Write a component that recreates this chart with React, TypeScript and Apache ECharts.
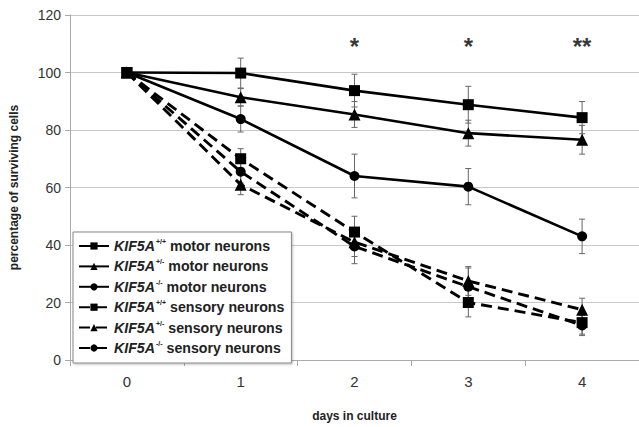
import React, { useEffect, useRef } from "react";
import * as echarts from "echarts";

const days = ["0", "1", "2", "3", "4"];
const seriesNames = [
  "motor_wt",
  "motor_het",
  "motor_ko",
  "sensory_wt",
  "sensory_het",
  "sensory_ko",
];
const genotypes = ["+/+", "+/-", "-/-", "+/+", "+/-", "-/-"];
const cellTypes = ["motor neurons", "motor neurons", "motor neurons", "sensory neurons", "sensory neurons", "sensory neurons"];
const symbols = ["rect", "triangle", "circle", "rect", "triangle", "circle"];
const dashed = [false, false, false, true, true, true];

const motorWT = [100, 99.8, 93.7, 88.8, 84.3];
const motorHet = [100, 91.4, 85.4, 78.9, 76.6];
const motorKO = [100, 83.8, 64, 60.3, 43];
const sensWT = [100, 70, 44.5, 20, 13];
const sensHet = [100, 61, 41, 27.5, 17.5];
const sensKO = [100, 65.5, 39.5, 25.5, 12];

const motorWTErr = [0, 5.2, 5.7, 6.4, 5.6];
const motorHetErr = [0, 3, 4.5, 4.5, 5];
const motorKOErr = [0, 4.5, 7.6, 6.3, 6];
const sensWTErr = [0, 3.5, 5.5, 5, 4];
const sensHetErr = [0, 3.5, 5, 5, 4];
const sensKOErr = [0, 4, 6, 6.5, 3.5];

const significance = ["", "", "*", "*", "**"];
const significanceLevel = 110.7;

const values = [motorWT, motorHet, motorKO, sensWT, sensHet, sensKO];
const errors = [motorWTErr, motorHetErr, motorKOErr, sensWTErr, sensHetErr, sensKOErr];

const FONT = "'Liberation Sans', Arial, sans-serif";

export default function App() {
  const ref = useRef<HTMLDivElement>(null);
  useEffect(() => {
    if (!ref.current) return;
    document.body.style.margin = "0";
    const chart = echarts.init(ref.current, null, { renderer: "svg" });

    const errData: number[][] = [];
    errors.forEach((errArr, s) => {
      errArr.forEach((e, i) => {
        if (e > 0) errData.push([i, values[s][i] - e, values[s][i] + e]);
      });
    });

    const lineSeries = values.map((vals, s) => ({
      name: seriesNames[s],
      type: "line",
      data: vals,
      symbol: symbols[s],
      symbolSize: symbols[s] === "triangle" ? 12 : symbols[s] === "circle" ? 10 : 11,
      showSymbol: true,
      z: 5,
      itemStyle: { color: "#000" },
      lineStyle: {
        color: "#000",
        width: dashed[s] ? 2.9 : 2.6,
        type: dashed[s] ? [11, 6] : "solid",
      },
    }));

    chart.setOption({
      animation: false,
      backgroundColor: "#fff",
      textStyle: { fontFamily: FONT },
      grid: { left: 68, right: -4, top: 15, bottom: 62 },
      xAxis: {
        type: "category",
        data: days,
        boundaryGap: true,
        name: "days in culture",
        nameLocation: "middle",
        nameGap: 50,
        nameTextStyle: { fontSize: 12, fontWeight: "bold", color: "#222", fontFamily: FONT },
        axisLine: { lineStyle: { color: "#aaa", width: 1 } },
        axisTick: { show: true, length: 6, lineStyle: { color: "#aaa" } },
        axisLabel: { fontSize: 15, color: "#333", margin: 14, fontFamily: FONT },
      },
      yAxis: {
        type: "value",
        min: 0,
        max: 120,
        interval: 20,
        name: "percentage of surviving cells",
        nameLocation: "middle",
        nameGap: 50,
        nameTextStyle: { fontSize: 12, fontWeight: "bold", color: "#222", fontFamily: FONT },
        axisLine: { show: true, lineStyle: { color: "#aaa", width: 1 } },
        axisTick: { show: true, length: 5, lineStyle: { color: "#aaa" } },
        axisLabel: { fontSize: 14, color: "#333", margin: 9, fontFamily: FONT },
        splitLine: { lineStyle: { color: "#c8c8c8", width: 1 } },
      },
      legend: {
        data: seriesNames,
        orient: "vertical",
        left: 73,
        top: 232,
        itemWidth: 30,
        itemHeight: 9,
        itemGap: 4.4,
        padding: [6, 7, 7, 5],
        backgroundColor: "#fff",
        borderColor: "#888",
        borderWidth: 1,
        shadowColor: "rgba(0,0,0,0.25)",
        shadowBlur: 2,
        shadowOffsetX: 1,
        shadowOffsetY: 1,
        formatter: (name: string) => {
          const idx = seriesNames.indexOf(name);
          return `{i|KIF5A}{s|${genotypes[idx]}}{n| ${cellTypes[idx]}}`;
        },
        textStyle: {
          color: "#222",
          fontFamily: FONT,
          lineHeight: 16,
          rich: {
            i: { fontStyle: "italic", fontWeight: "bold", fontSize: 14.2, lineHeight: 16, color: "#222", fontFamily: FONT },
            s: { fontSize: 7, fontWeight: "bold", color: "#222", verticalAlign: "top", lineHeight: 16, padding: [0, 0, 0, 1], fontFamily: FONT },
            n: { fontSize: 14.2, fontWeight: "bold", lineHeight: 16, color: "#222", fontFamily: FONT },
          },
        },
      },
      series: [
        {
          name: "errors",
          type: "custom",
          z: 2,
          silent: true,
          data: errData,
          encode: { x: 0, y: [1, 2] },
          renderItem: (params: any, api: any) => {
            const x = api.value(0);
            const lo = api.coord([x, api.value(1)]);
            const hi = api.coord([x, api.value(2)]);
            const cap = 3;
            const style = { stroke: "#666", lineWidth: 1 };
            return {
              type: "group",
              children: [
                { type: "line", shape: { x1: lo[0], y1: lo[1], x2: hi[0], y2: hi[1] }, style },
                { type: "line", shape: { x1: lo[0] - cap, y1: lo[1], x2: lo[0] + cap, y2: lo[1] }, style },
                { type: "line", shape: { x1: hi[0] - cap, y1: hi[1], x2: hi[0] + cap, y2: hi[1] }, style },
              ],
            };
          },
        },
        ...lineSeries,
        {
          name: "significance",
          type: "scatter",
          symbolSize: 0,
          silent: true,
          data: significance.map((s, i) => (s ? [i, significanceLevel, s] : [i, null, ""])),
          label: {
            show: true,
            position: "inside",
            formatter: (p: any) => p.data[2],
            fontSize: 24,
            fontWeight: "bold",
            color: "#000",
            fontFamily: FONT,
            offset: [0, 5],
          },
        },
      ],
    });
    return () => chart.dispose();
  }, []);
  return <div ref={ref} style={{ width: 639, height: 427 }} />;
}
